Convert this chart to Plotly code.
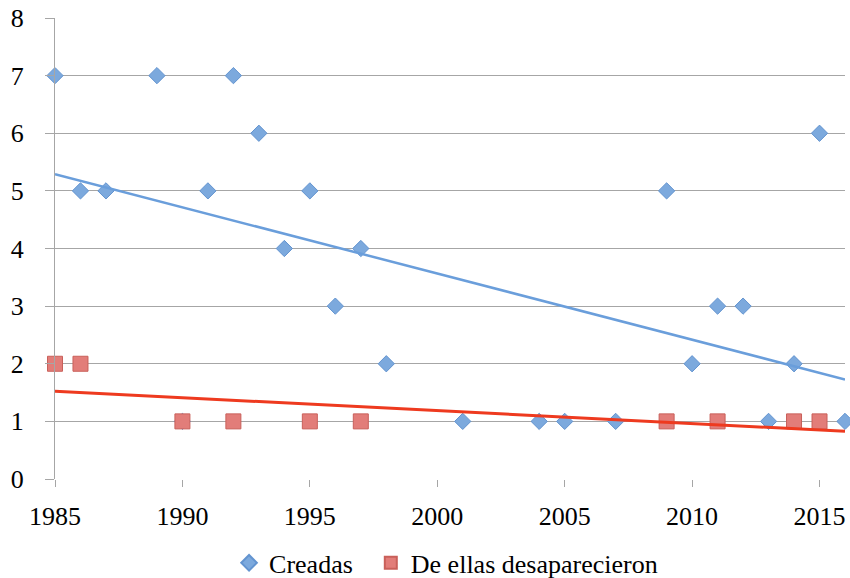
import numpy as np
import plotly.graph_objects as go

years_creadas = [1985, 1986, 1987, 1989, 1990, 1991, 1992, 1993, 1994, 1995, 1996, 1997, 1998,
                 2001, 2004, 2005, 2007, 2009, 2010, 2011, 2012, 2013, 2014, 2015, 2016]
creadas = [7, 5, 5, 7, 1, 5, 7, 6, 4, 5, 3, 4, 2,
           1, 1, 1, 1, 5, 2, 3, 3, 1, 2, 6, 1]

years_desap = [1985, 1986, 1990, 1992, 1995, 1997, 2009, 2011, 2014, 2015]
desaparecieron = [2, 2, 1, 1, 1, 1, 1, 1, 1, 1]

x_ticks = [1985, 1990, 1995, 2000, 2005, 2010, 2015]
y_ticks = [0, 1, 2, 3, 4, 5, 6, 7, 8]
trend_x = [1985, 2016]

def trend(xs, ys):
    m, b = np.polyfit(xs, ys, 1)
    return [m * x + b for x in trend_x]

FAMILY = "Liberation Serif"
FS = 26
GAP = "\u00a0" * 2  # extra spacing between legend entries

fig = go.Figure()
fig.add_trace(go.Scatter(
    x=years_creadas, y=creadas, mode="markers", name="Creadas" + GAP,
    marker=dict(symbol="diamond", size=12.5, color="#7CA9DD",
                line=dict(color="#6394D0", width=1)),
    cliponaxis=False))
fig.add_trace(go.Scatter(
    x=years_desap, y=desaparecieron, mode="markers", name="De ellas desaparecieron",
    marker=dict(symbol="square", size=15, color="#E27D79",
                line=dict(color="#C9605A", width=1)),
    cliponaxis=False))
fig.add_trace(go.Scatter(
    x=trend_x, y=trend(years_creadas, creadas), mode="lines", showlegend=False,
    line=dict(color="#6A9EDB", width=2.5), hoverinfo="skip"))
fig.add_trace(go.Scatter(
    x=trend_x, y=trend(years_desap, desaparecieron), mode="lines", showlegend=False,
    line=dict(color="#EE3A1F", width=3), hoverinfo="skip"))

fig.update_layout(
    width=850, height=578,
    margin=dict(l=55, r=5, t=18, b=99, autoexpand=False),
    paper_bgcolor="white", plot_bgcolor="white",
    font=dict(family=FAMILY, size=FS, color="black"),
    showlegend=True,
    legend=dict(orientation="h", x=0.495, xanchor="center", y=-0.182, yanchor="middle",
                font=dict(family=FAMILY, size=FS, color="black"), itemsizing="constant"),
)
fig.update_xaxes(
    range=[1985, 2016], tickvals=x_ticks, showgrid=False, zeroline=False,
    showline=False, ticks="outside", ticklen=7, tickcolor="#A6A6A6",
    ticklabelstandoff=7,
    tickfont=dict(family=FAMILY, size=FS, color="black"), automargin=False)
fig.update_yaxes(
    range=[0, 8], tickvals=y_ticks, showgrid=True, gridcolor="#A6A6A6", gridwidth=1,
    zeroline=False, showline=True, linecolor="#A6A6A6", linewidth=1,
    ticks="outside", ticklen=9, tickcolor="#A6A6A6",
    ticklabelstandoff=16,
    tickfont=dict(family=FAMILY, size=FS, color="black"), automargin=False)

fig.write_html("out.html", config={"displayModeBar": False},
               post_script="document.body.style.margin='0px';document.body.style.overflow='hidden';")
